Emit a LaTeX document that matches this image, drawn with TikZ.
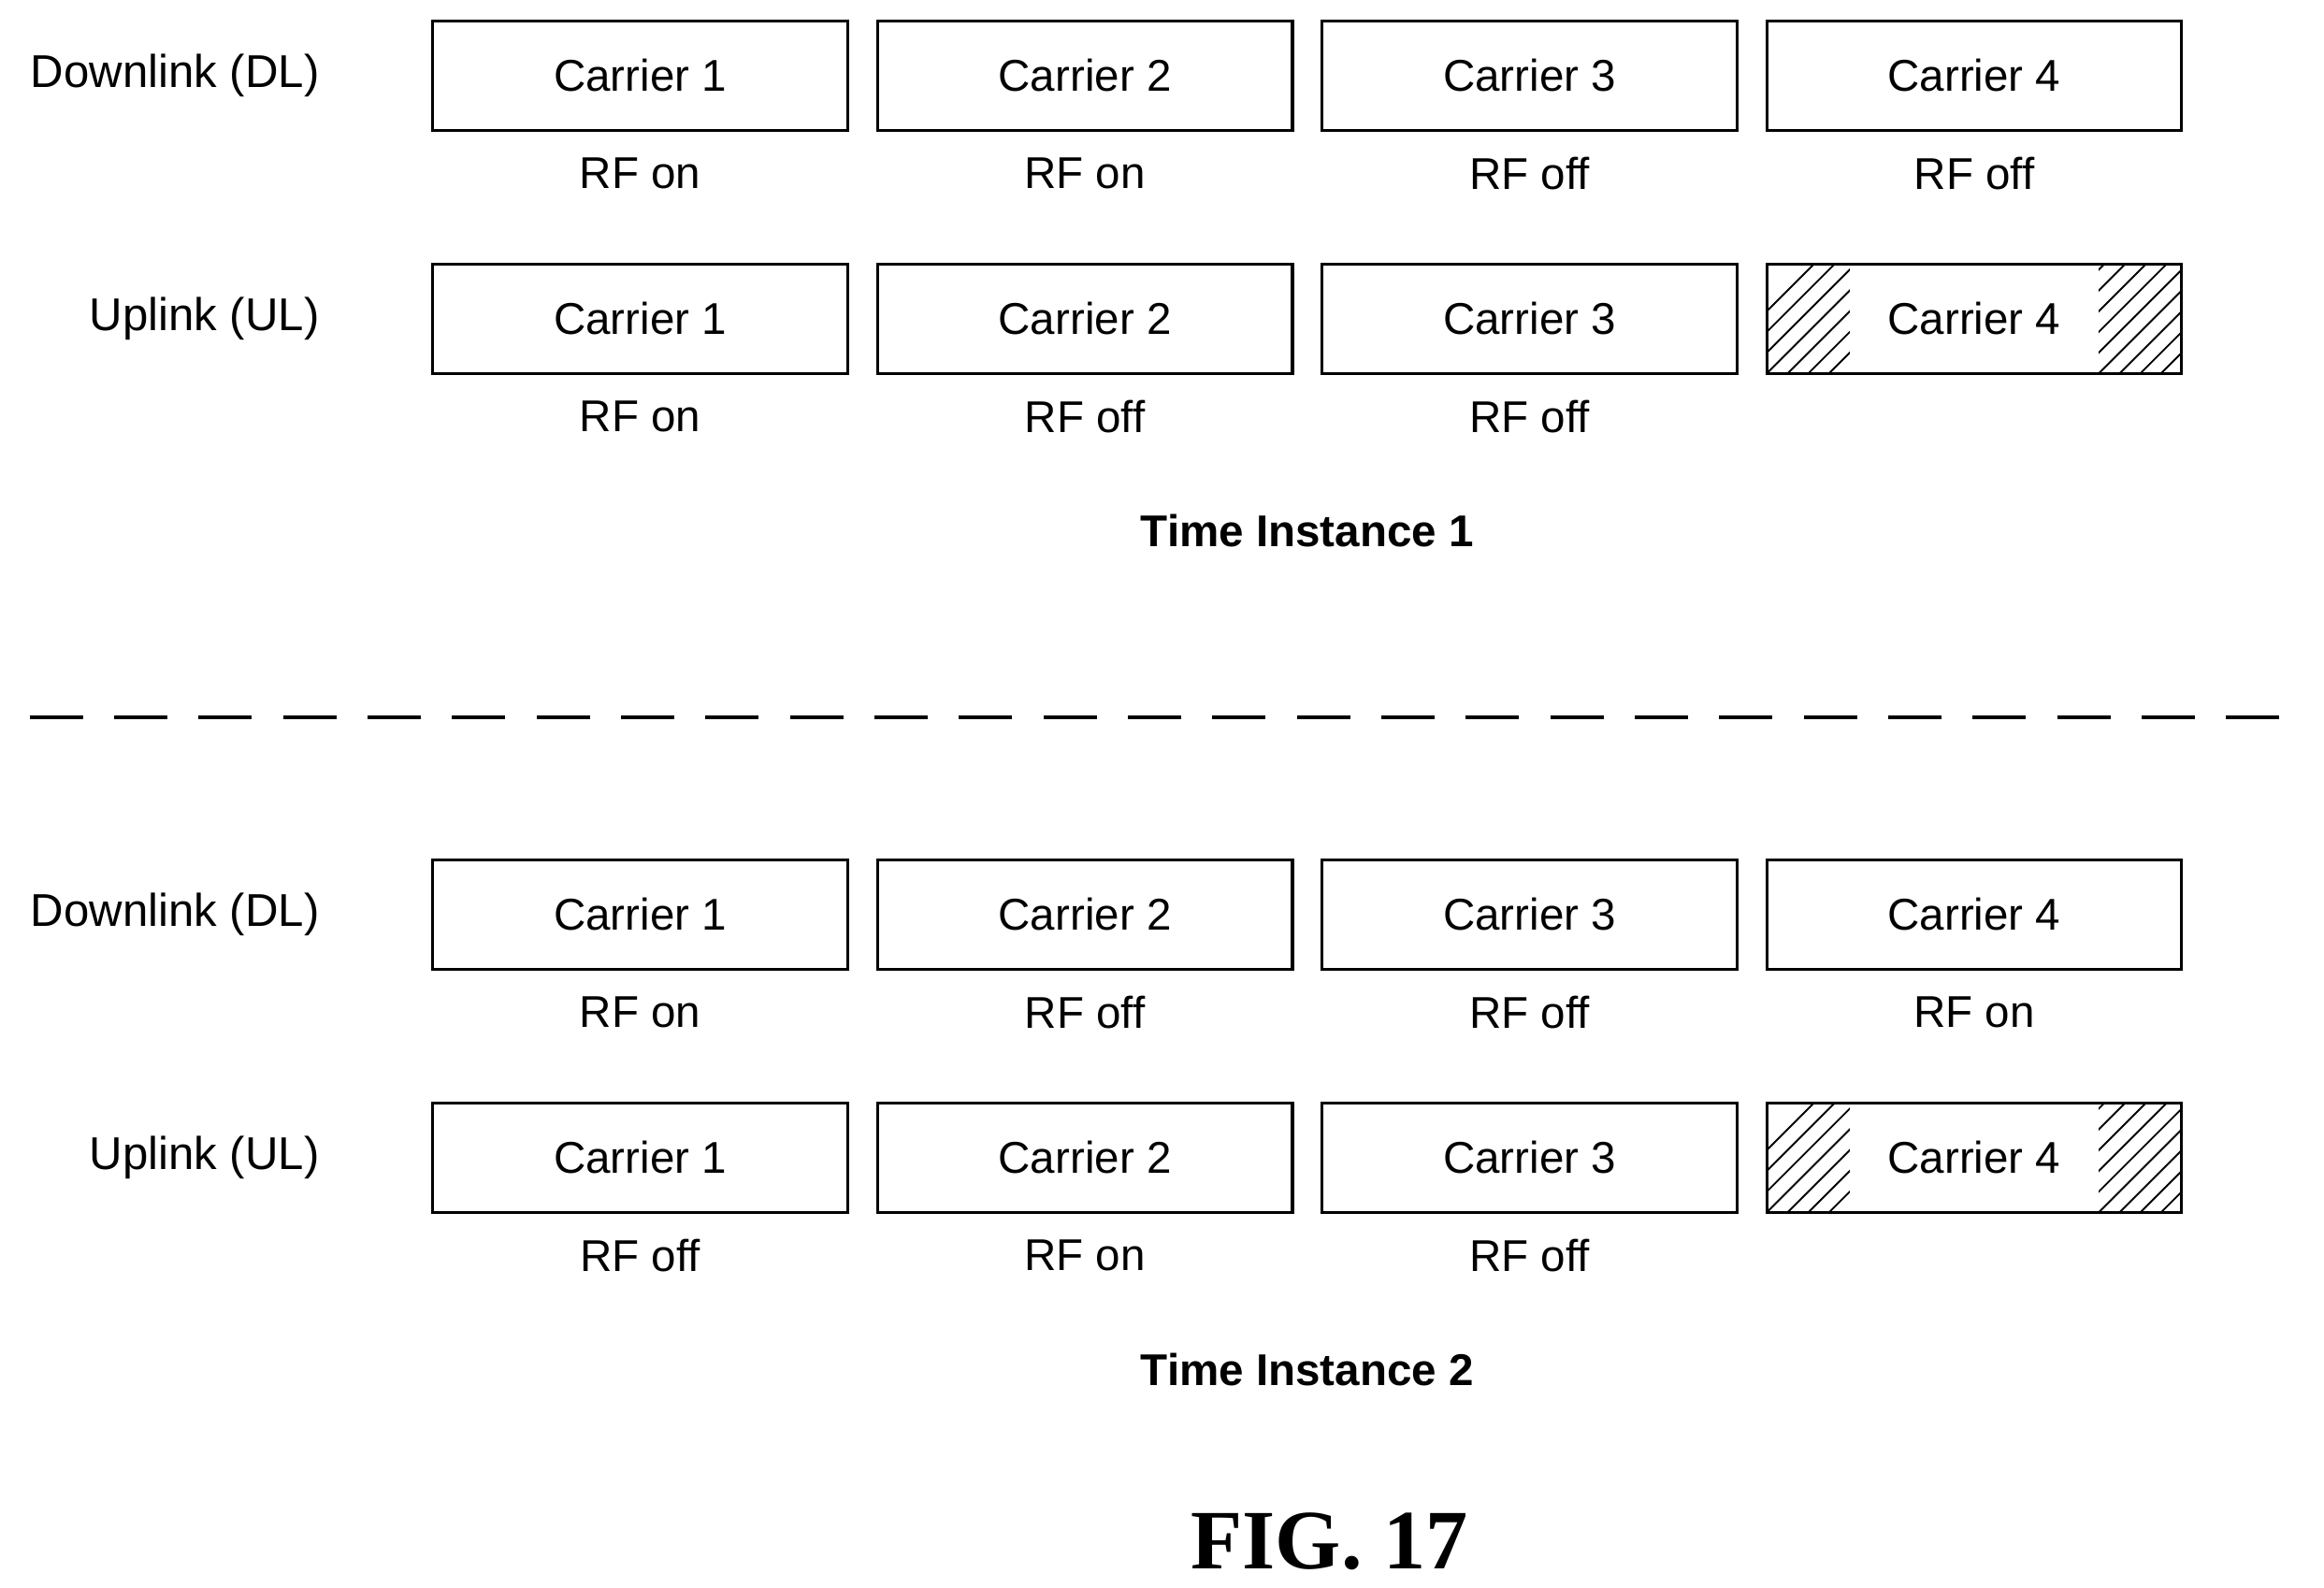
\documentclass[tikz,border=0pt]{standalone}
\usepackage{fontspec}
\setmainfont{Liberation Sans}
\begin{document}
\begin{tikzpicture}[x=1pt,y=-1pt,
  car/.style={draw,line width=2pt,minimum width=280pt,minimum height=74pt,inner sep=0pt,font=\fontsize{30}{36}\selectfont},
  lab/.style={font=\fontsize{30}{36}\selectfont},
  row/.style={font=\fontsize{31}{36}\selectfont,anchor=east},
  ti/.style={font=\bfseries\fontsize{30}{36}\selectfont}]
\useasboundingbox (0,0) rectangle (1568,1071);
\foreach \blk/\dy/\dl/\ul/\t in {1/0/{on,on,off,off}/{on,off,off}/1, 2/566/{on,off,off,on}/{off,on,off}/2}{
  \node[row] (dlr\blk) at (219,51+\dy) {Downlink (DL)};
  \node[row] (ulr\blk) at (219,215+\dy) {Uplink (UL)};
  \foreach \i/\x in {1/432,2/732,3/1032,4/1332}{
    \ifnum\i=4
      \begin{scope}
        \clip (1192,178+\dy) rectangle (1248,252+\dy) (1416,178+\dy) rectangle (1472,252+\dy);
        \foreach \k in {0,14,...,360} \draw[line width=1.2pt] (1150+\k,252+\dy) -- ++(80,-80);
      \end{scope}
    \fi
    \node[car] (d\blk\i) at (\x,51+\dy) {Carrier \i};
    \node[car] (u\blk\i) at (\x,215+\dy) {Carrier \i};
  }
  \foreach \s [count=\i] in \dl { \node[lab] (dl\blk\i) at (432+300*\i-300,117+\dy) {RF \s}; }
  \foreach \s [count=\i] in \ul { \node[lab] (ul\blk\i) at (432+300*\i-300,281+\dy) {RF \s}; }
  \node[ti] (t\blk) at (882,358+\dy) {Time Instance \t};
}
\draw[line width=2pt,dash pattern=on 36pt off 21pt] (20,484) -- (1555,484);
\node[font=\fontspec{Liberation Serif}\bfseries\fontsize{57}{66}\selectfont] (fig) at (897,1040) {FIG. 17};
\end{tikzpicture}
\end{document}
